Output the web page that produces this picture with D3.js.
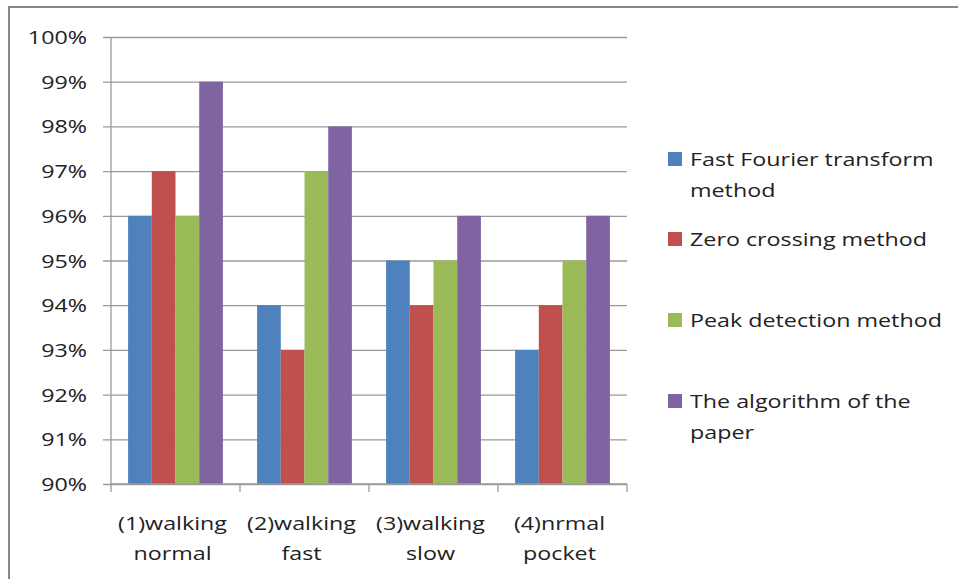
<!DOCTYPE html>
<html>
<head>
<meta charset="utf-8">
<script src="https://cdn.jsdelivr.net/npm/d3@7/dist/d3.min.js"></script>
<style>
  html, body { margin: 0; padding: 0; background: #fff; }
  svg { display: block; }
  text { font-family: "Open Sans", "Noto Sans", sans-serif; fill: #222; }
</style>
</head>
<body>
<svg id="chart" width="958" height="579"></svg>
<script>
// Step-detection accuracy per walking scenario
const categories = [["(1)walking", "normal"], ["(2)walking", "fast"], ["(3)walking", "slow"], ["(4)nrmal", "pocket"]];
const seriesNames = [["Fast Fourier transform", "method"], ["Zero crossing method"], ["Peak detection method"], ["The algorithm of the", "paper"]];
const seriesColors = ["#4F81BD", "#C0504D", "#9BBB59", "#8064A2"];
const fftValues  = [96, 94, 95, 93];
const zeroValues = [97, 93, 94, 94];
const peakValues = [96, 97, 95, 95];
const algoValues = [99, 98, 96, 96];
const yTicks = [90, 91, 92, 93, 94, 95, 96, 97, 98, 99, 100];

const seriesValues = [fftValues, zeroValues, peakValues, algoValues];

const FONT_SIZE = 19;
const STRETCH = 1.225;   // wide-set lettering

const svg = d3.select("#chart");
const plot = { left: 111, right: 627, top: 37, bottom: 484 };

// outer chart frame (only top and left edges fall inside the view)
svg.append("rect")
  .attr("x", 9).attr("y", 7)
  .attr("width", 1000).attr("height", 1000)
  .attr("fill", "none").attr("stroke", "#868686").attr("stroke-width", 2);

const x0 = d3.scaleBand().domain(d3.range(categories.length))
  .range([plot.left, plot.right]).paddingInner(0.265).paddingOuter(0.1325);
const x1 = d3.scaleBand().domain(d3.range(seriesValues.length))
  .range([0, x0.bandwidth()]);
const y = d3.scaleLinear().domain([90, 100]).range([plot.bottom, plot.top]);

// place a (possibly multi-line) label with horizontal stretch
function stretchedText(parent, x, yPos, lines, anchor, lineGap) {
  const t = parent.append("text")
    .attr("transform", `translate(${x},${yPos}) scale(${STRETCH},1)`)
    .attr("text-anchor", anchor)
    .style("font-size", FONT_SIZE + "px");
  lines.forEach((ln, j) => {
    t.append("tspan").attr("x", 0).attr("y", j * lineGap).text(ln);
  });
  return t;
}

// horizontal gridlines
const yAxis = d3.axisLeft(y).tickValues(yTicks).tickSize(plot.right - plot.left + 8)
  .tickFormat("");
const yg = svg.append("g")
  .attr("transform", `translate(${plot.right},0)`)
  .call(yAxis);
yg.select(".domain").remove();
yg.selectAll(".tick line").attr("stroke", "#9a9a9a").attr("stroke-width", 1.3);

// y tick labels
const yLabels = svg.append("g");
yTicks.forEach(v => {
  stretchedText(yLabels, 87, y(v) + 7, [v + "%"], "end", 0);
});

// bars
const groups = svg.append("g").selectAll("g")
  .data(categories.map((c, i) => i))
  .join("g")
  .attr("transform", i => `translate(${x0(i)},0)`);
groups.selectAll("rect")
  .data(i => seriesValues.map((vals, s) => ({ s, v: vals[i] })))
  .join("rect")
  .attr("x", d => x1(d.s))
  .attr("width", x1.bandwidth())
  .attr("y", d => y(d.v))
  .attr("height", d => y(90) - y(d.v))
  .attr("fill", d => seriesColors[d.s]);

// axis lines and category boundary ticks
const axisG = svg.append("g");
axisG.append("line")
  .attr("x1", plot.left).attr("x2", plot.right)
  .attr("y1", plot.bottom).attr("y2", plot.bottom)
  .attr("stroke", "#9a9a9a").attr("stroke-width", 1.3);
axisG.append("line")
  .attr("x1", plot.left).attr("x2", plot.left)
  .attr("y1", plot.top).attr("y2", plot.bottom)
  .attr("stroke", "#9a9a9a").attr("stroke-width", 1.3);
const boundaries = d3.range(categories.length + 1)
  .map(i => plot.left + i * (plot.right - plot.left) / categories.length);
axisG.selectAll(".bt").data(boundaries).join("line")
  .attr("x1", d => d).attr("x2", d => d)
  .attr("y1", plot.bottom).attr("y2", plot.bottom + 8)
  .attr("stroke", "#9a9a9a").attr("stroke-width", 1.3);

// category labels
const catG = svg.append("g");
categories.forEach((lines, i) => {
  stretchedText(catG, x0(i) + x0.bandwidth() / 2 - 3, 530, lines, "middle", 30);
});

// legend
const legendRows = [166, 246, 327, 408];
const legend = svg.append("g");
seriesNames.forEach((lines, s) => {
  legend.append("rect")
    .attr("x", 668).attr("y", legendRows[s] - 14)
    .attr("width", 14).attr("height", 14)
    .attr("fill", seriesColors[s]);
  stretchedText(legend, 690, legendRows[s], lines, "start", 31);
});
</script>
</body>
</html>
